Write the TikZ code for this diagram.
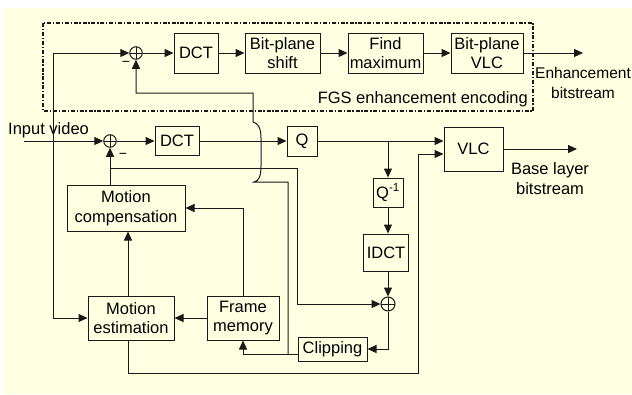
\documentclass[tikz,border=0pt]{standalone}
\usepackage{fontspec}
\setmainfont{Liberation Sans}
\usetikzlibrary{arrows.meta}
\definecolor{cream}{RGB}{255,255,226}
\definecolor{ink}{RGB}{25,25,25}
\begin{document}
\begin{tikzpicture}[x=1pt,y=-1pt,
  box/.style={draw=ink, line width=1pt, inner sep=0pt, align=center, font=\fontsize{16.5}{19.5}\selectfont},
  sumnode/.style={draw=ink, circle, line width=1pt, minimum size=12.5pt, inner sep=0pt,
    path picture={\draw[ink, line width=0.8pt] (path picture bounding box.north) -- (path picture bounding box.south) (path picture bounding box.west) -- (path picture bounding box.east);}},
  conn/.style={draw=ink, line width=1pt},
  arr/.style={conn, -{Triangle[length=9pt,width=8pt]}},
  lbl/.style={font=\fontsize{16.5}{20}\selectfont, inner sep=0pt, align=center},
  minus/.style={font=\fontsize{14}{14}\selectfont, inner sep=0pt},
]
\useasboundingbox (0,0) rectangle (632,394);
\fill[white] (0,0) rectangle (632,394);
\fill[cream] (4,8) rectangle (632,394);

% FGS enhancement region
\draw[ink, line width=1.4pt, dash pattern=on 4pt off 1.8pt on 1.3pt off 1.8pt] (43,23) rectangle (533,111);
\node[lbl, anchor=east] (fgs) at (528,99) {FGS enhancement encoding};

% enhancement row
\node[sumnode] (eplus) at (136,53) {};
\node[box, minimum width=44pt, minimum height=40pt] (eDCT) at (196,53) {DCT};
\node[box, minimum width=75pt, minimum height=40pt] (bps) at (282.5,53) {Bit-plane\\shift};
\node[box, minimum width=75pt, minimum height=40pt] (fmx) at (385.5,53) {Find\\maximum};
\node[box, minimum width=72pt, minimum height=40pt] (bpv) at (487,53) {Bit-plane\\VLC};
\coordinate (eout) at (583,53);
\node[lbl, font=\fontsize{15.5}{20}\selectfont] (enhlbl) at (583,83) {Enhancement\\bitstream};

% main row
\coordinate (inp) at (24,141);
\node[lbl, anchor=west] (inlbl) at (8,130) {Input video};
\node[sumnode] (mplus) at (110,141) {};
\node[box, minimum width=44pt, minimum height=29pt] (mDCT) at (177,141) {DCT};
\node[box, minimum width=30pt, minimum height=30pt] (Q) at (302,141) {Q};
\node[box, minimum width=59pt, minimum height=44pt] (VLC) at (473.5,149) {VLC};
\coordinate (bout) at (577,149);
\node[lbl] (baselbl) at (550,179) {Base layer\\bitstream};

% inverse path
\node[box, minimum width=30pt, minimum height=29pt] (Qi) at (388,192.5) {Q\textsuperscript{-1}};
\node[box, minimum width=45pt, minimum height=37pt] (IDCT) at (386,252.5) {IDCT};
\node[sumnode, minimum size=14pt] (aplus) at (388,304) {};
\node[box, minimum width=69pt, minimum height=24pt] (clip) at (332.5,349) {Clipping};

% motion blocks
\node[box, minimum width=118pt, minimum height=46pt] (MC) at (126,208) {Motion\\compensation};
\node[box, minimum width=86pt, minimum height=44pt] (ME) at (131,318) {Motion\\estimation};
\node[box, minimum width=72pt, minimum height=44pt] (FM) at (243,318) {Frame\\memory};

% minus signs
\node[minus] (m1) at (126,64) {−};
\node[minus] (m2) at (123,156) {−};

% helper coordinates
\coordinate (qbr) at (388,141);
\coordinate (mcbr) at (110,168);
\coordinate (mcr) at (297,168);
\coordinate (mcd) at (297,304);
\coordinate (ad) at (388,349);
\coordinate (cl) at (298,354);
\coordinate (fmb) at (243,354);
\coordinate (fmt) at (243,208);
\coordinate (lt) at (53,53);
\coordinate (lb) at (53,318);
\coordinate (med) at (128,373);
\coordinate (vr) at (418,373);
\coordinate (vin) at (418,154);
\coordinate (ej) at (288,354);
\coordinate (ea) at (288,182);
\coordinate (eb) at (254,182);
\coordinate (ec) at (253,122);
\coordinate (ed) at (253,93);
\coordinate (ee) at (136,93);

% enhancement row connectors
\draw[arr] (eplus) -- (eDCT);
\draw[arr] (eDCT) -- (bps);
\draw[arr] (bps) -- (fmx);
\draw[arr] (fmx) -- (bpv);
\draw[arr] (bpv) -- (eout);

% main row connectors
\draw[arr] (inp) -- (mplus);
\draw[arr] (mplus) -- (mDCT);
\draw[arr] (mDCT) -- (Q);
\draw[arr] (Q.east) -- (Q.east -| VLC.west);
\draw[arr] (VLC) -- (bout);
\draw[arr] (qbr) -- (Qi);
\draw[arr] (Qi.south) -- (Qi.south |- IDCT.north);
\draw[arr] (aplus.north |- IDCT.south) -- (aplus);
\draw[arr] (aplus) -- (ad) -- (ad -| clip.east);
\draw[arr] (cl) -- (fmb) -- (FM);
\draw[arr] (FM.north) -- (fmt) -- (fmt -| MC.east);
\draw[arr] (FM) -- (ME);
\draw[arr] (ME.north -| med) -- (MC.south -| med);
\draw[arr] (MC.north -| mplus) -- (mplus);
\draw[arr] (mcbr) -- (mcr) -- (mcd) -- (aplus);
\draw[arr] (ME.south -| med) -- (med) -- (vr) -- (vin) -- (vin -| VLC.west);
\draw[arr] (lb) -- (lt) -- (eplus);
\draw[arr] (lb) -- (ME);
\draw[arr] (ej) -- (ea) -- (eb) .. controls (259,181) and (261,176) .. (261,166) -- (261,138) .. controls (261,128) and (258,123) .. (ec) -- (ed) -- (ee) -- (eplus);

\end{tikzpicture}
\end{document}
